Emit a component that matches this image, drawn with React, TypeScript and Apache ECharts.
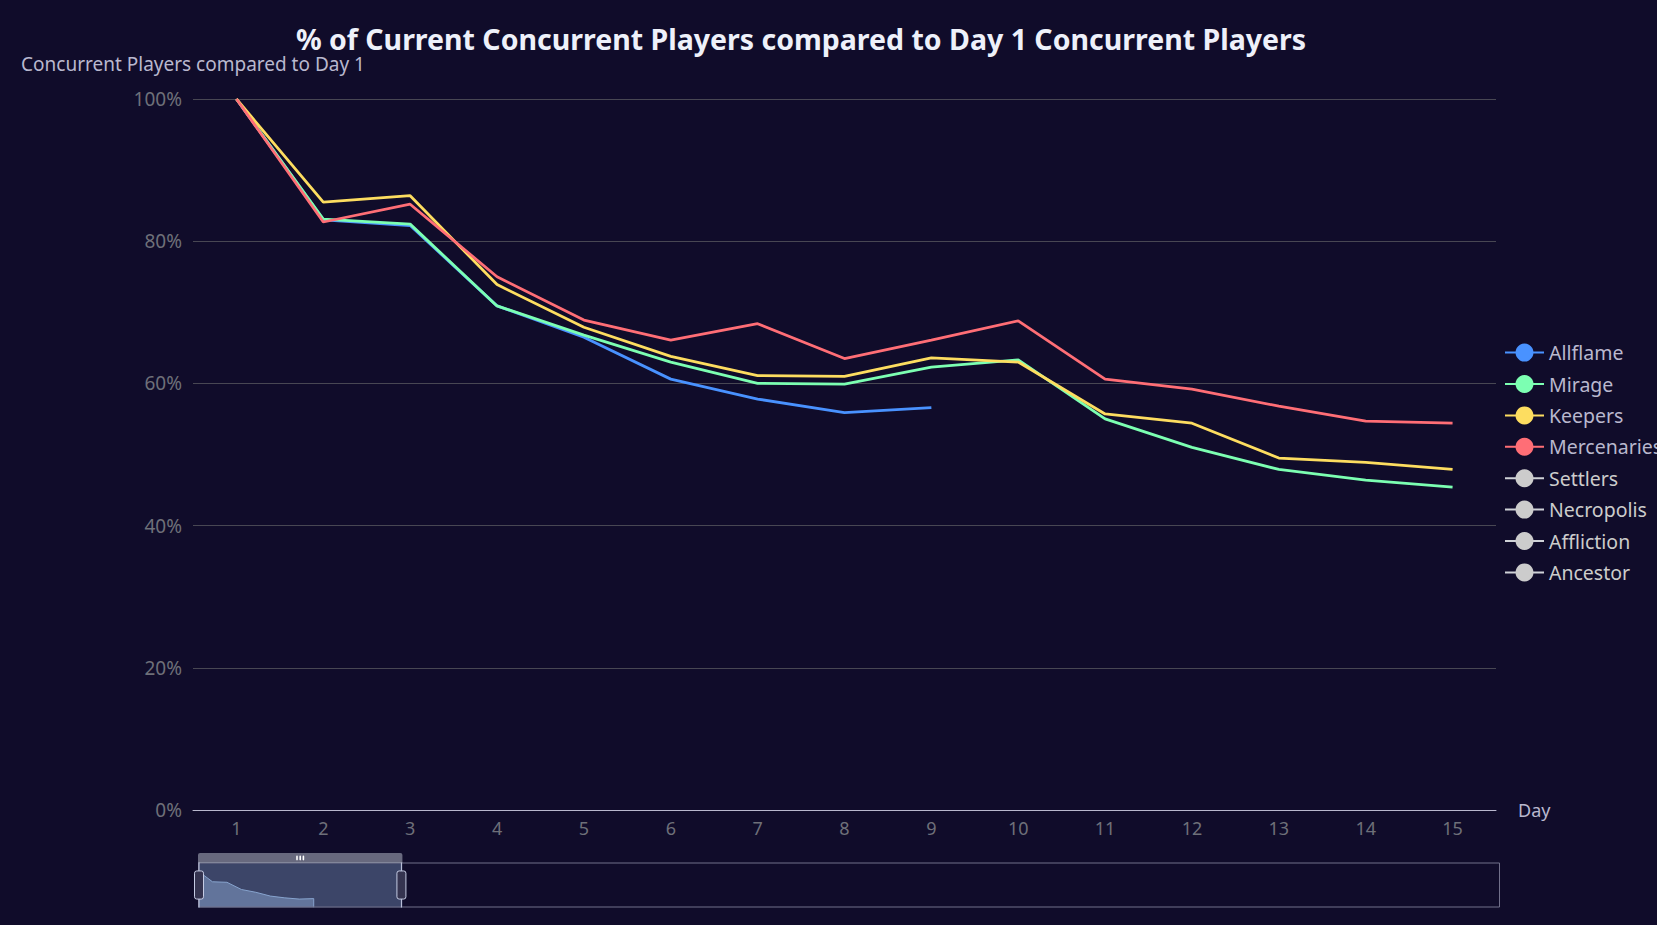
import React, { useEffect, useRef } from "react";
import * as echarts from "echarts";

const TITLE = "% of Current Concurrent Players compared to Day 1 Concurrent Players";
const Y_NAME = "Concurrent Players compared to Day 1";
const X_NAME = "Day";

// Day categories on the x axis (the full axis is longer than the zoom window)
const DAY_COUNT = 91;
const days: string[] = Array.from({ length: DAY_COUNT }, (_, i) => String(i + 1));

const leagueNames = ["Allflame", "Mirage", "Keepers", "Mercenaries", "Settlers", "Necropolis", "Affliction", "Ancestor"];
const leagueColors = ["#4992ff", "#7cffb2", "#fddd60", "#ff6e76", "#58d9f9", "#05c091", "#ff8a45", "#8d48e3"];
const hiddenLeagues = ["Settlers", "Necropolis", "Affliction", "Ancestor"];

// % of day-1 concurrent players
const allflame = [100, 83.0, 82.2, 70.9, 66.5, 60.6, 57.8, 55.9, 56.6];
const mirage = [100, 83.1, 82.4, 70.9, 66.8, 63.0, 60.0, 59.9, 62.3, 63.3, 55.0, 51.0, 47.9, 46.4, 45.4];
const keepers = [100, 85.5, 86.4, 73.9, 67.9, 63.8, 61.1, 61.0, 63.6, 63.0, 55.7, 54.4, 49.5, 48.9, 47.9];
const mercenaries = [100, 82.7, 85.2, 75.0, 68.9, 66.1, 68.4, 63.5, 66.1, 68.8, 60.6, 59.2, 56.8, 54.7, 54.4];
const settlers: number[] = [];
const necropolis: number[] = [];
const affliction: number[] = [];
const ancestor: number[] = [];

const yTicks = { min: 0, max: 100, interval: 20 };
const zoomWindow = { start: 0, end: 15.7 };

const FONT = "'Noto Sans', 'Open Sans', sans-serif";

function pad(values: number[]): (number | null)[] {
  const out: (number | null)[] = values.slice();
  while (out.length < days.length) out.push(null);
  return out;
}

export default function App() {
  const ref = useRef<HTMLDivElement>(null);
  useEffect(() => {
    if (!ref.current) return;
    const chart = echarts.init(ref.current, undefined, { renderer: "svg" });
    const seriesData = [allflame, mirage, keepers, mercenaries, settlers, necropolis, affliction, ancestor];
    const selected: Record<string, boolean> = {};
    leagueNames.forEach((n) => (selected[n] = hiddenLeagues.indexOf(n) < 0));
    chart.setOption({
      animation: false,
      backgroundColor: "#100C2A",
      color: leagueColors,
      textStyle: { fontFamily: FONT },
      title: {
        text: TITLE,
        left: 796,
        top: 19,
        textAlign: "center",
        textStyle: { color: "#EEF1FA", fontSize: 28.5, fontWeight: "bold", fontFamily: FONT },
      },
      legend: {
        orient: "vertical",
        left: 1499,
        top: "middle",
        itemWidth: 39,
        itemHeight: 22.5,
        itemGap: 11.4,
        inactiveColor: "#ccc",
        selected,
        data: leagueNames,
        textStyle: { color: "#B9B8CE", fontSize: 19.5, fontFamily: FONT },
      },
      grid: { left: 193, right: 161, top: 99, bottom: 115, containLabel: false, outerBoundsMode: "none" },
      xAxis: {
        type: "category",
        data: days,
        boundaryGap: true,
        name: X_NAME,
        nameGap: 22,
        nameTextStyle: { color: "#B9B8CE", fontSize: 18, fontFamily: FONT },
        axisLine: { show: true, lineStyle: { color: "#B9B8CE", width: 1 } },
        axisTick: { show: false },
        axisLabel: { color: "#6E7079", fontSize: 18, margin: 9, fontFamily: FONT },
        splitLine: { show: false },
      },
      yAxis: {
        type: "value",
        min: yTicks.min,
        max: yTicks.max,
        interval: yTicks.interval,
        name: Y_NAME,
        nameGap: 26,
        nameTextStyle: { color: "#B9B8CE", fontSize: 19, fontFamily: FONT },
        axisLine: { show: false },
        axisTick: { show: false },
        axisLabel: { color: "#6E7079", fontSize: 19, margin: 11, formatter: "{value}%", fontFamily: FONT },
        splitLine: { show: true, lineStyle: { color: "#484753", width: 1 } },
      },
      dataZoom: [
        {
          type: "slider",
          xAxisIndex: 0,
          start: zoomWindow.start,
          end: zoomWindow.end,
          left: 194,
          right: 161,
          top: 853,
          height: 45,
          showDetail: false,
          borderColor: "#71708A",
          backgroundColor: "rgba(47,69,84,0)",
          fillerColor: "rgba(135,163,206,0.38)",
          handleIcon:
            "path://M-9.35,34.56V42m0-40V9.5m-2,0h4a2,2,0,0,1,2,2v21a2,2,0,0,1-2,2h-4a2,2,0,0,1-2-2v-21A2,2,0,0,1-11.35,9.5Z",
          handleSize: "100%",
          handleStyle: { color: "#353450", borderColor: "#C5CBE3", borderWidth: 1 },
          moveHandleSize: 10,
          moveHandleStyle: { color: "#B0B6C3", opacity: 0.55 },
          dataBackground: {
            lineStyle: { color: "#71708A", width: 1 },
            areaStyle: { color: "#71708A", opacity: 0.2 },
          },
          selectedDataBackground: {
            lineStyle: { color: "#87A3CE", width: 1 },
            areaStyle: { color: "#87A3CE", opacity: 0.5 },
          },
        },
      ],
      series: leagueNames.map((name, i) => ({
        name,
        type: "line",
        symbol: "none",
        data: pad(seriesData[i]),
        lineStyle: { width: 2.8 },
      })),
    });
    return () => chart.dispose();
  }, []);
  return <div ref={ref} style={{ position: "fixed", left: 0, top: 0, width: 1657, height: 925 }} />;
}
